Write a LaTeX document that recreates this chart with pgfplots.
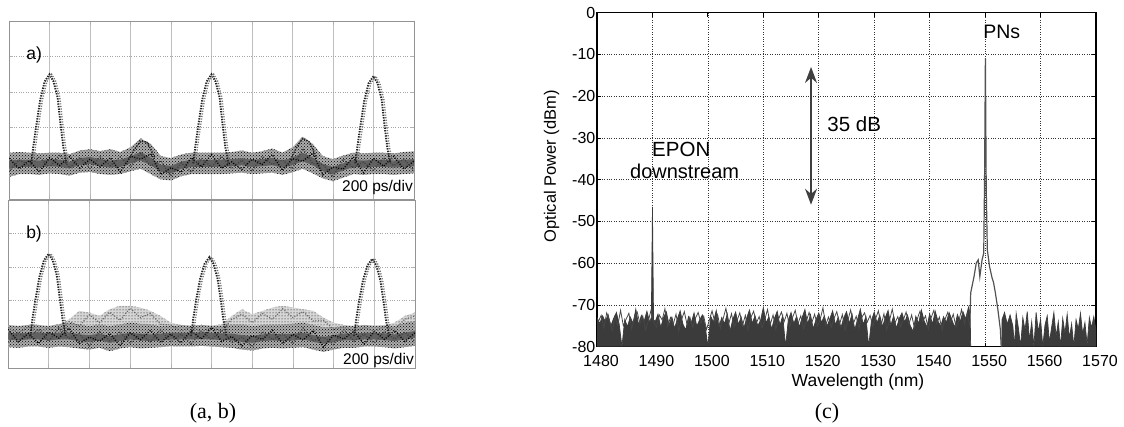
\documentclass[border=0pt]{standalone}
\usepackage{fontspec}
\setmainfont{Liberation Sans}
\newfontfamily\capfont{Liberation Serif}
\usepackage{pgfplots}
\usepackage{pgfplotstable}
\pgfplotsset{compat=1.18}
\usepgfplotslibrary{fillbetween}
\usetikzlibrary{patterns,arrows.meta}

% scope traces, grid units (10 x 5 divisions)
\pgfplotstableread{
x olo ohi clo chi j1 j2
0 0.62 1.30 0.85 1.08 1.15 0.77
0.25 0.70 1.32 0.90 1.10 0.85 1.10
0.5 0.70 1.30 0.90 1.10 1.08 0.94
0.75 0.68 1.28 0.88 1.08 0.76 1.18
1.0 0.72 1.30 0.92 1.12 1.16 0.88
1.25 0.70 1.30 0.90 1.10 0.94 1.24
1.5 0.66 1.26 0.86 1.05 1.19 0.87
1.75 0.74 1.36 0.95 1.15 0.87 1.17
2.0 0.76 1.40 0.98 1.18 1.12 0.86
2.25 0.70 1.34 0.92 1.12 0.90 1.18
2.5 0.68 1.40 0.88 1.08 1.16 0.94
2.75 0.70 1.32 0.90 1.10 0.76 1.18
3.0 0.78 1.45 1.00 1.20 1.20 0.90
3.25 0.85 1.70 1.08 1.32 1.12 1.28
3.5 0.70 1.55 0.95 1.16 1.27 0.93
3.75 0.55 1.20 0.76 0.96 0.69 1.07
4.0 0.52 1.15 0.72 0.93 0.88 0.64
4.25 0.64 1.25 0.85 1.05 0.75 1.01
4.5 0.70 1.30 0.90 1.10 1.16 0.76
4.75 0.70 1.30 0.90 1.10 0.90 1.14
5.0 0.70 1.30 0.90 1.10 1.25 0.90
5.25 0.70 1.30 0.90 1.10 0.86 1.20
5.5 0.72 1.32 0.92 1.12 1.04 0.86
5.75 0.74 1.36 0.95 1.15 0.83 1.09
6.0 0.70 1.30 0.90 1.10 1.12 0.78
6.25 0.72 1.34 0.92 1.12 0.97 1.20
6.5 0.74 1.42 0.95 1.15 1.25 0.97
6.75 0.68 1.30 0.88 1.08 0.80 1.10
7.0 0.75 1.45 0.95 1.16 1.13 0.85
7.25 0.85 1.75 1.06 1.30 1.06 1.42
7.5 0.72 1.55 0.95 1.16 1.29 0.99
7.75 0.58 1.20 0.78 0.98 0.68 0.98
8.0 0.50 1.12 0.70 0.90 0.90 0.62
8.25 0.60 1.22 0.80 1.00 0.84 1.12
8.5 0.70 1.30 0.90 1.10 1.18 0.88
8.75 0.68 1.28 0.88 1.08 0.74 1.04
9.0 0.70 1.30 0.90 1.10 1.14 0.80
9.25 0.70 1.30 0.90 1.10 0.92 1.16
9.5 0.68 1.28 0.88 1.08 1.20 0.94
9.75 0.70 1.32 0.90 1.10 0.84 1.12
10 0.72 1.34 0.92 1.12 1.07 0.80
}\bandA

\pgfplotstableread{
x olo ohi clo chi hhi j1 j2 j3
0 0.62 1.28 0.85 1.06 1.28 1.15 0.77 1.20
0.25 0.60 1.25 0.82 1.03 1.25 0.78 1.03 1.05
0.5 0.64 1.28 0.85 1.05 1.28 1.03 0.89 1.22
0.75 0.64 1.28 0.85 1.06 1.28 0.73 1.16 1.10
1.0 0.60 1.25 0.82 1.03 1.25 1.07 0.79 1.18
1.25 0.64 1.30 0.85 1.05 1.30 0.89 1.19 1.05
1.5 0.62 1.35 0.85 1.06 1.45 1.19 0.88 1.38
1.75 0.58 1.30 0.80 1.00 1.70 0.72 1.02 1.25
2.0 0.55 1.25 0.78 0.98 1.65 0.92 0.66 1.58
2.25 0.60 1.30 0.82 1.02 1.55 0.80 1.08 1.35
2.5 0.50 1.25 0.75 0.95 1.75 1.03 0.81 1.66
2.75 0.58 1.30 0.80 1.00 1.85 0.66 1.08 1.42
3.0 0.62 1.35 0.85 1.05 1.85 1.05 0.75 1.78
3.25 0.58 1.32 0.82 1.02 1.80 0.84 1.00 1.50
3.5 0.60 1.30 0.80 1.00 1.70 1.12 0.78 1.62
3.75 0.62 1.25 0.82 1.02 1.55 0.76 1.14 1.30
4.0 0.65 1.25 0.85 1.05 1.35 1.01 0.77 1.28
4.25 0.64 1.28 0.85 1.05 1.28 0.75 1.01 1.10
4.5 0.64 1.26 0.85 1.05 1.26 1.11 0.71 1.22
4.75 0.66 1.28 0.86 1.06 1.28 0.86 1.10 1.08
5.0 0.64 1.26 0.85 1.05 1.26 1.20 0.85 1.20
5.25 0.62 1.25 0.83 1.03 1.30 0.79 1.13 1.10
5.5 0.60 1.30 0.82 1.02 1.55 0.94 0.76 1.45
5.75 0.55 1.30 0.78 0.98 1.75 0.66 0.92 1.60
6.0 0.52 1.25 0.75 0.95 1.60 0.97 0.63 1.35
6.25 0.58 1.28 0.80 1.00 1.70 0.85 1.08 1.62
6.5 0.60 1.30 0.82 1.02 1.80 1.12 0.84 1.45
6.75 0.58 1.30 0.80 1.00 1.85 0.72 1.02 1.76
7.0 0.60 1.32 0.82 1.02 1.80 1.00 0.72 1.50
7.25 0.62 1.35 0.85 1.05 1.75 0.83 1.19 1.68
7.5 0.55 1.28 0.78 0.98 1.70 1.12 0.82 1.40
7.75 0.48 1.22 0.72 0.92 1.50 0.62 0.92 1.42
8.0 0.55 1.22 0.78 0.98 1.35 0.98 0.70 1.15
8.25 0.60 1.25 0.82 1.02 1.28 0.86 1.14 1.22
8.5 0.60 1.25 0.82 1.02 1.25 1.10 0.80 1.08
8.75 0.64 1.28 0.85 1.05 1.28 0.71 1.01 1.20
9.0 0.64 1.26 0.85 1.05 1.26 1.09 0.75 1.10
9.25 0.62 1.25 0.83 1.03 1.28 0.85 1.09 1.22
9.5 0.58 1.25 0.80 1.00 1.35 1.12 0.86 1.15
9.75 0.62 1.35 0.85 1.05 1.55 0.79 1.07 1.45
10 0.66 1.40 0.90 1.10 1.65 1.05 0.78 1.55
}\bandB

% optical spectrum
\pgfplotstableread{
x y
1480.0 -80
1480.0 -73.0
1480.5 -74.5
1481.0 -72.6
1481.5 -74.0
1482.0 -72.3
1482.5 -75.0
1483.0 -73.2
1483.5 -71.8
1484.0 -74.6
1484.5 -80.0
1485.0 -73.5
1485.5 -75.2
1486.0 -72.9
1486.5 -74.4
1487.0 -71.0
1487.5 -74.8
1488.0 -72.5
1488.5 -73.9
1489.0 -71.5
1489.5 -74.2
1489.8 -73.0
1490.0 -46.5
1490.2 -73.5
1490.5 -74.0
1491.0 -72.2
1491.5 -75.4
1492.0 -73.0
1492.5 -71.6
1493.0 -74.8
1493.5 -72.9
1494.0 -75.6
1494.5 -73.3
1495.0 -71.4
1495.5 -74.6
1496.0 -76.0
1496.5 -72.8
1497.0 -74.3
1497.5 -71.9
1498.0 -75.1
1498.5 -73.6
1499.0 -72.4
1499.5 -74.9
1500.0 -80.0
1500.5 -72.7
1501.0 -74.1
1501.5 -71.3
1502.0 -75.3
1502.5 -73.0
1503.0 -74.5
1503.5 -72.1
1504.0 -76.2
1504.5 -73.4
1505.0 -71.7
1505.5 -74.7
1506.0 -72.9
1506.5 -75.5
1507.0 -73.1
1507.5 -71.2
1508.0 -74.4
1508.5 -72.6
1509.0 -75.0
1509.5 -73.7
1510.0 -70.6
1510.5 -74.3
1511.0 -72.8
1511.5 -75.8
1512.0 -73.2
1512.5 -71.5
1513.0 -74.9
1513.5 -72.5
1514.0 -80.0
1514.5 -73.6
1515.0 -71.8
1515.5 -74.5
1516.0 -72.7
1516.5 -75.3
1517.0 -73.0
1517.5 -71.1
1518.0 -74.6
1518.5 -72.3
1519.0 -75.7
1519.5 -73.5
1520.0 -71.9
1520.5 -74.2
1521.0 -72.6
1521.5 -75.1
1522.0 -73.3
1522.5 -71.4
1523.0 -74.8
1523.5 -72.9
1524.0 -75.4
1524.5 -73.1
1525.0 -71.6
1525.5 -74.4
1526.0 -72.2
1526.5 -75.9
1527.0 -73.4
1527.5 -71.0
1528.0 -74.7
1528.5 -72.8
1529.0 -80.0
1529.5 -73.7
1530.0 -71.7
1530.5 -74.3
1531.0 -72.5
1531.5 -75.2
1532.0 -73.0
1532.5 -71.3
1533.0 -74.9
1533.5 -72.6
1534.0 -75.6
1534.5 -73.3
1535.0 -71.9
1535.5 -74.1
1536.0 -72.4
1536.5 -75.0
1537.0 -76.3
1537.5 -72.7
1538.0 -74.5
1538.5 -71.2
1539.0 -73.8
1539.5 -75.3
1540.0 -72.1
1540.5 -74.6
1541.0 -71.5
1541.5 -73.9
1542.0 -75.1
1542.5 -72.8
1543.0 -74.2
1543.5 -71.8
1544.0 -73.5
1544.5 -75.4
1545.0 -72.3
1545.5 -74.0
1546.0 -71.6
1546.5 -73.4
1547.0 -70.5
1547.3 -72.0
1547.4 -80
}\noiseL

% second sweep of the floor, between the samples above
\pgfplotstableread{
x y
1480.25 -74.0
1480.75 -72.5
1481.25 -75.5
1481.75 -71.9
1482.25 -73.8
1482.75 -76.1
1483.25 -72.8
1483.75 -74.9
1484.25 -71.3
1484.75 -75.0
1485.25 -73.4
1485.75 -72.0
1486.25 -75.7
1486.75 -73.1
1487.25 -71.7
1487.75 -74.5
1488.25 -72.6
1488.75 -76.0
1489.25 -73.9
1489.75 -71.2
1490.25 -74.2
1490.75 -75.3
1491.25 -72.4
1491.75 -73.6
1492.25 -70.9
1492.75 -75.1
1493.25 -73.0
1493.75 -74.7
1494.25 -72.2
1494.75 -76.2
1495.25 -73.5
1495.75 -71.6
1496.25 -74.8
1496.75 -72.9
1497.25 -75.4
1497.75 -73.2
1498.25 -71.8
1498.75 -74.4
1499.25 -72.7
1499.75 -75.9
1500.25 -73.7
1500.75 -71.4
1501.25 -74.1
1501.75 -72.3
1502.25 -75.6
1502.75 -73.3
1503.25 -70.8
1503.75 -74.6
1504.25 -72.1
1504.75 -75.2
1505.25 -73.8
1505.75 -71.9
1506.25 -74.9
1506.75 -72.5
1507.25 -76.0
1507.75 -73.0
1508.25 -71.5
1508.75 -74.3
1509.25 -72.8
1509.75 -75.5
1510.25 -73.6
1510.75 -71.1
1511.25 -74.7
1511.75 -72.4
1512.25 -75.8
1512.75 -73.4
1513.25 -71.7
1513.75 -74.0
1514.25 -72.0
1514.75 -75.3
1515.25 -73.1
1515.75 -71.3
1516.25 -74.5
1516.75 -72.6
1517.25 -75.7
1517.75 -73.9
1518.25 -71.8
1518.75 -74.2
1519.25 -72.2
1519.75 -75.0
1520.25 -73.5
1520.75 -70.7
1521.25 -74.8
1521.75 -72.9
1522.25 -75.4
1522.75 -73.2
1523.25 -71.6
1523.75 -74.6
1524.25 -72.3
1524.75 -76.1
1525.25 -73.7
1525.75 -71.2
1526.25 -74.4
1526.75 -72.7
1527.25 -75.6
1527.75 -73.0
1528.25 -71.9
1528.75 -74.1
1529.25 -72.5
1529.75 -75.1
1530.25 -73.3
1530.75 -71.4
1531.25 -74.9
1531.75 -72.1
1532.25 -75.9
1532.75 -73.8
1533.25 -71.0
1533.75 -74.3
1534.25 -72.8
1534.75 -75.2
1535.25 -73.6
1535.75 -71.7
1536.25 -74.7
1536.75 -72.4
1537.25 -75.5
1537.75 -73.4
1538.25 -71.5
1538.75 -74.0
1539.25 -72.6
1539.75 -75.8
1540.25 -73.1
1540.75 -71.3
1541.25 -74.5
1541.75 -72.9
1542.25 -76.0
1542.75 -73.5
1543.25 -71.8
1543.75 -74.2
1544.25 -72.2
1544.75 -75.3
1545.25 -73.9
1545.75 -71.1
1546.25 -74.6
1546.75 -72.0
1547.25 -75.0
}\noiseM

\pgfplotstableread{
x y
1553.0 -80
1553.05 -73.5
1553.5 -71.8
1554.0 -74.6
1554.5 -72.4
1555.0 -75.0
1555.3 -80
1555.6 -72.0
1556.0 -75.5
1556.4 -80
1556.8 -73.0
1557.2 -76.0
1557.6 -71.6
1558.0 -78.5
1558.4 -74.0
1558.8 -80
1559.2 -71.8
1559.6 -76.5
1560.0 -73.4
1560.4 -80
1560.8 -74.8
1561.2 -72.6
1561.6 -79.0
1562.0 -75.3
1562.4 -71.8
1562.8 -77.5
1563.2 -74.0
1563.6 -80
1564.0 -73.2
1564.4 -76.8
1564.8 -72.2
1565.2 -78.0
1565.6 -74.5
1566.0 -80
1566.4 -73.5
1566.8 -75.8
1567.2 -72.0
1567.6 -77.0
1568.0 -74.2
1568.4 -79.5
1568.8 -73.0
1569.2 -75.5
1569.6 -72.8
1570.0 -76.0
1570.0 -80
}\noiseR

\pgfplotstableread{
x y
1547.3 -72.0
1547.4 -67.1
1548.0 -63.2
1548.4 -60.0
1548.75 -59.2
1549.05 -63.2
1549.45 -59.2
1549.75 -57.6
1549.9 -40.0
1550.05 -10.9
1550.2 -42.0
1550.4 -56.8
1550.8 -60.8
1551.25 -63.5
1551.5 -64.5
1551.85 -67.1
1552.3 -71.1
1552.75 -75.9
1552.9 -80
}\signal

\pgfplotsset{
  osc/.style={anchor=south west, scale only axis,
    xmin=0, xmax=10, ymin=0, ymax=5,
    xtick={1,...,9}, ytick={1,...,4},
    xticklabels={}, yticklabels={},
    xmajorgrids, ymajorgrids,
    x grid style={gray!50, line width=0.5pt},
    y grid style={gray!70, dotted, line width=0.6pt},
    axis line style={gray!85, line width=0.8pt},
    tick align=inside, major tick length=4pt,
    tick style={gray!60, line width=0.6pt}},
  pulse/.style={black!85, line width=1.9pt, dash pattern=on 1.4pt off 1.2pt},
  pulse2/.style={black!55, line width=1.5pt, dash pattern=on 1.1pt off 1.5pt, xshift=2.2pt},
  jag/.style={black, line width=1.4pt, dash pattern=on 1pt off 1.6pt},
}

\begin{document}
\begin{tikzpicture}

% ---------- a) ----------
\begin{axis}[osc, at={(9pt,228pt)}, width=405pt, height=178pt]
\addplot[draw=none, name path=ao] table[y=olo] {\bandA};
\addplot[draw=none, name path=ai] table[y=ohi] {\bandA};
\addplot[pattern=dots, pattern color=black!80, yshift=3.5pt] fill between[of=ao and ai];
\addplot[pattern=dots, pattern color=black!80, yshift=-3.5pt] fill between[of=ao and ai];
\addplot[fill=black!32] fill between[of=ao and ai];
\addplot[pattern=crosshatch dots, pattern color=black] fill between[of=ao and ai];
\addplot[draw=none, name path=ac] table[y=clo] {\bandA};
\addplot[draw=none, name path=ad] table[y=chi] {\bandA};
\addplot[fill=black!62] fill between[of=ac and ad];
\addplot[jag] table[y=j1] {\bandA};
\addplot[jag, black!75] table[y=j2] {\bandA};
\addplot[pulse] coordinates {(0.55,1.0) (0.6,1.47) (0.67,2.03) (0.77,2.78) (0.88,3.3) (1.0,3.5) (1.1,3.3) (1.2,2.85) (1.28,2.03) (1.34,1.47) (1.42,1.0)};
\addplot[pulse] coordinates {(4.55,1.0) (4.6,1.47) (4.67,2.03) (4.77,2.78) (4.88,3.3) (5.0,3.5) (5.1,3.3) (5.2,2.85) (5.28,2.03) (5.34,1.47) (5.42,1.0)};
\addplot[pulse] coordinates {(8.55,1.0) (8.6,1.45) (8.67,2.0) (8.77,2.75) (8.88,3.25) (9.0,3.45) (9.1,3.25) (9.2,2.8) (9.28,2.0) (9.34,1.45) (9.42,1.0)};
\addplot[pulse2] coordinates {(0.55,1.0) (0.6,1.47) (0.67,2.03) (0.77,2.78) (0.88,3.3) (1.0,3.5) (1.1,3.3) (1.2,2.85) (1.28,2.03) (1.34,1.47) (1.42,1.0)};
\addplot[pulse2] coordinates {(4.55,1.0) (4.6,1.47) (4.67,2.03) (4.77,2.78) (4.88,3.3) (5.0,3.5) (5.1,3.3) (5.2,2.85) (5.28,2.03) (5.34,1.47) (5.42,1.0)};
\addplot[pulse2] coordinates {(8.55,1.0) (8.6,1.45) (8.67,2.0) (8.77,2.75) (8.88,3.25) (9.0,3.45) (9.1,3.25) (9.2,2.8) (9.28,2.0) (9.34,1.45) (9.42,1.0)};
\addplot[pulse, line width=1.4pt] coordinates {(2.95,1.1) (3.1,1.4) (3.25,1.62) (3.4,1.6) (3.5,1.4) (3.6,1.15)};
\addplot[pulse, line width=1.4pt] coordinates {(6.95,1.1) (7.1,1.45) (7.25,1.7) (7.4,1.62) (7.5,1.4) (7.6,1.15)};
\node[font=\fontsize{17.5}{20}\selectfont] at (axis cs:0.62,4.05) {a)};
\node[anchor=base east, inner sep=1pt, font=\fontsize{15.5}{18}\selectfont] at (axis cs:10,0.2) {200 ps/div};
\end{axis}

% ---------- b) ----------
\begin{axis}[osc, at={(8pt,59pt)}, width=407pt, height=168pt]
\addplot[draw=none, name path=bh] table[y=hhi] {\bandB};
\addplot[draw=none, name path=bo] table[y=olo] {\bandB};
\addplot[draw=none, name path=bi] table[y=ohi] {\bandB};
\addplot[fill=black!16] fill between[of=bi and bh];
\addplot[pattern=dots, pattern color=black] fill between[of=bi and bh];
\addplot[pattern=dots, pattern color=black!80, yshift=-3.5pt] fill between[of=bo and bi];
\addplot[fill=black!32] fill between[of=bo and bi];
\addplot[pattern=crosshatch dots, pattern color=black] fill between[of=bo and bi];
\addplot[draw=none, name path=bc] table[y=clo] {\bandB};
\addplot[draw=none, name path=bd] table[y=chi] {\bandB};
\addplot[fill=black!62] fill between[of=bc and bd];
\addplot[jag] table[y=j1] {\bandB};
\addplot[jag, black!75] table[y=j2] {\bandB};
\addplot[jag, black!60, line width=1.2pt] table[y=j3] {\bandB};
\addplot[pulse] coordinates {(0.55,0.95) (0.6,1.45) (0.67,2.0) (0.77,2.7) (0.88,3.2) (1.0,3.4) (1.1,3.2) (1.2,2.75) (1.28,2.0) (1.34,1.45) (1.42,0.95)};
\addplot[pulse] coordinates {(4.5,0.95) (4.55,1.45) (4.62,2.0) (4.72,2.65) (4.83,3.1) (4.95,3.3) (5.05,3.1) (5.15,2.65) (5.23,2.0) (5.29,1.45) (5.37,0.95)};
\addplot[pulse] coordinates {(8.5,0.95) (8.55,1.4) (8.62,1.95) (8.72,2.6) (8.83,3.05) (8.95,3.25) (9.05,3.05) (9.15,2.6) (9.23,1.95) (9.29,1.4) (9.37,0.95)};
\addplot[pulse2] coordinates {(0.55,0.95) (0.6,1.45) (0.67,2.0) (0.77,2.7) (0.88,3.2) (1.0,3.4) (1.1,3.2) (1.2,2.75) (1.28,2.0) (1.34,1.45) (1.42,0.95)};
\addplot[pulse2] coordinates {(4.5,0.95) (4.55,1.45) (4.62,2.0) (4.72,2.65) (4.83,3.1) (4.95,3.3) (5.05,3.1) (5.15,2.65) (5.23,2.0) (5.29,1.45) (5.37,0.95)};
\addplot[pulse2] coordinates {(8.5,0.95) (8.55,1.4) (8.62,1.95) (8.72,2.6) (8.83,3.05) (8.95,3.25) (9.05,3.05) (9.15,2.6) (9.23,1.95) (9.29,1.4) (9.37,0.95)};
\node[font=\fontsize{17.5}{20}\selectfont] at (axis cs:0.64,4.0) {b)};
\node[anchor=base east, inner sep=1pt, font=\fontsize{15.5}{18}\selectfont] at (axis cs:10,0.1) {200 ps/div};
\end{axis}

% ---------- c) ----------
\begin{axis}[at={(597pt,80.3pt)}, anchor=south west, scale only axis,
  width=499pt, height=334pt,
  xmin=1480, xmax=1570, ymin=-80, ymax=0,
  xtick={1480,1490,...,1570}, ytick={-80,-70,...,0},
  grid=major, grid style={black!80, dotted, line width=0.6pt},
  axis line style={black, line width=1.1pt},
  tick align=inside, major tick length=4pt,
  tick style={black, line width=0.8pt},
  /pgf/number format/assume math mode=true,
  ticklabel style={font=\fontsize{16}{18}\selectfont},
  xticklabel style={/pgf/number format/1000 sep={}, inner sep=0pt, yshift=-8pt, xshift=4pt},
  yticklabel style={inner sep=1.5pt},
  xlabel={Wavelength (nm)}, ylabel={Optical Power (dBm)},
  xlabel style={font=\fontsize{17.5}{20}\selectfont, at={(axis description cs:0.523,-0.106)}, anchor=center},
  ylabel style={font=\fontsize{16.5}{20}\selectfont, at={(axis description cs:-0.091,0.54)}, anchor=center},
]
\addplot[fill=black!77, draw=black!77, line width=0.7pt] table {\noiseL};
\addplot[black!72, line width=0.8pt] table {\noiseM};
\addplot[fill=black!77, draw=black!77, line width=0.7pt] table {\noiseR};
\addplot[black!68, line width=1.2pt] table {\signal};
\draw[black!75, line width=1.4pt, {Stealth[length=16pt,width=12pt]}-{Stealth[length=16pt,width=12pt]}]
  (axis cs:1518.6,-13) -- (axis cs:1518.6,-46);
\node[font=\fontsize{20.5}{24}\selectfont] at (axis cs:1526.4,-26.7) {35 dB};
\node[font=\fontsize{20.5}{24}\selectfont] at (axis cs:1495.2,-32.7) {EPON};
\node[font=\fontsize{20}{24}\selectfont] at (axis cs:1495.8,-38.1) {downstream};
\node[font=\fontsize{19.5}{22}\selectfont] at (axis cs:1553,-4.7) {PNs};
\end{axis}

\node[font=\capfont\fontsize{22}{24}\selectfont] at (213pt,14pt) {(a, b)};
\node[font=\capfont\fontsize{22}{24}\selectfont] at (827pt,14pt) {(c)};
\path (0pt,0pt) rectangle (1124pt,427pt);
\end{tikzpicture}
\end{document}
